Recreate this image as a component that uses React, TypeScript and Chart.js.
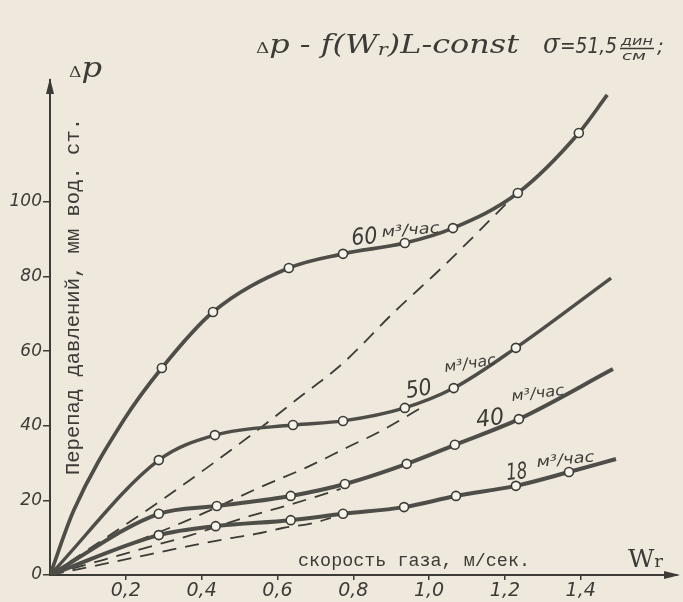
import React, { useEffect, useRef } from "react";
import { Chart, registerables } from "chart.js";
Chart.register(...registerables);

// Measured points: gas velocity W (m/s) and pressure drop Δp (mm H2O)
const W60 = [0.295, 0.43, 0.63, 0.773, 0.936, 1.063, 1.234, 1.395];
const P60 = [55.5, 70.5, 82.3, 86.1, 89.0, 93.0, 102.4, 118.5];
const W50 = [0.287, 0.435, 0.641, 0.773, 0.936, 1.065, 1.229];
const P50 = [30.8, 37.5, 40.2, 41.3, 44.8, 50.1, 60.9];
const W40 = [0.287, 0.44, 0.635, 0.778, 0.941, 1.068, 1.237];
const P40 = [16.4, 18.5, 21.2, 24.4, 29.8, 34.9, 41.8];
const W18 = [0.287, 0.437, 0.635, 0.773, 0.934, 1.071, 1.229, 1.369];
const P18 = [10.7, 13.1, 14.7, 16.4, 18.2, 21.2, 23.9, 27.6];

// Unmarked path points (start near origin / line ends)
const PATH60_W = [0.0, 0.063, 0.195, 1.47];
const PATH60_P = [0.0, 17.4, 41.6, 128.7];
const PATH50_W = [0.0, 1.48];
const PATH50_P = [0.0, 79.6];
const PATH40_W = [0.0, 1.485];
const PATH40_P = [0.0, 55.2];
const PATH18_W = [0.0, 1.493];
const PATH18_P = [0.0, 31.1];

// Dashed lines
const D1_W = [0, 0.306, 0.538, 0.649, 0.773, 0.905, 1.036, 1.221];
const D1_P = [0, 20.9, 38.1, 46.9, 56.8, 70.2, 82.6, 101.3];
const D2_W = [0, 0.364, 0.556, 0.68, 0.786, 0.873, 0.992];
const D2_P = [0, 14.7, 23.6, 29.0, 34.3, 38.6, 45.6];
const D3_W = [0, 0.121, 0.232, 0.372, 0.511, 0.604, 0.715, 0.767];
const D3_P = [0, 3.5, 6.7, 10.7, 15.3, 18.0, 21.4, 23.1];
const D4_W = [0, 0.139, 0.266, 0.379, 0.477, 0.543, 0.614, 0.693, 0.741];
const D4_P = [0, 2.9, 5.6, 8.0, 9.9, 11.0, 12.6, 13.9, 15.3];

const X_TICKS = [0.2, 0.4, 0.6, 0.8, 1.0, 1.2, 1.4];
const Y_TICKS = [0, 20, 40, 60, 80, 100];
const X_MAX = 1.654;
const Y_MAX = 132.7;

const TITLE = "p - f(W";
const TITLE_END = ")L-const";
const SIGMA = "σ";
const SIGMA_VAL = "=51,5";
const UNIT_TOP = "дин";
const UNIT_BOT = "см";
const Y_TITLE = "Перепад давлений, мм вод. ст.";
const X_TITLE = "скорость газа, м/сек.";
const FLOW_UNIT = "м³/час";
const FLOW_LABELS = ["60", "50", "40", "18"];

const INK = "#3c3b37";
const LINE = "#4e4d48";
const PAPER = "#eee9dc";

type Seg = { t: string; f: string; dy?: number };

function drawSegs(ctx: CanvasRenderingContext2D, segs: Seg[], x: number, y: number, width: number, rot = 0) {
  let total = 0;
  const ws = segs.map((s) => {
    ctx.font = s.f;
    const w = ctx.measureText(s.t).width;
    total += w;
    return w;
  });
  const sx = width ? width / total : 1;
  ctx.save();
  ctx.translate(x, y);
  if (rot) ctx.rotate(rot);
  ctx.scale(sx, 1);
  ctx.textAlign = "left";
  ctx.textBaseline = "alphabetic";
  let cx = 0;
  segs.forEach((s, i) => {
    ctx.font = s.f;
    ctx.fillText(s.t, cx, s.dy || 0);
    cx += ws[i];
  });
  ctx.restore();
}

const SERIF_I = (n: number) => `italic ${n}px "DejaVu Serif"`;
const SANS_I = (n: number) => `italic ${n}px "DejaVu Sans"`;
const MONO = (n: number) => `${n}px "Liberation Mono"`;

const decorPlugin = {
  id: "decor",
  beforeDraw(chart: any) {
    const { ctx, width, height } = chart;
    ctx.save();
    ctx.fillStyle = PAPER;
    ctx.fillRect(0, 0, width, height);
    ctx.restore();
  },
  afterDraw(chart: any) {
    const { ctx, chartArea } = chart;
    const { left, right, top, bottom } = chartArea;
    ctx.save();
    ctx.fillStyle = INK;
    ctx.strokeStyle = INK;
    // arrow heads
    ctx.beginPath();
    ctx.moveTo(left, top - 2);
    ctx.lineTo(left - 4, top + 14);
    ctx.lineTo(left + 4, top + 14);
    ctx.closePath();
    ctx.fill();
    ctx.beginPath();
    ctx.moveTo(right + 3, bottom);
    ctx.lineTo(right - 13, bottom - 4);
    ctx.lineTo(right - 13, bottom + 4);
    ctx.closePath();
    ctx.fill();

    // axis name labels
    drawSegs(ctx, [{ t: "Δ", f: `15px "DejaVu Serif"` }, { t: "p", f: SERIF_I(28) }], 69, 77, 33);
    drawSegs(ctx, [{ t: "W", f: `24px "DejaVu Serif"` }, { t: "r", f: `17px "DejaVu Serif"` }], 628, 567, 35);

    // title
    drawSegs(
      ctx,
      [
        { t: "Δ", f: `15px "DejaVu Serif"` },
        { t: TITLE, f: SERIF_I(26) },
        { t: "r", f: SERIF_I(17), dy: 2 },
        { t: TITLE_END, f: SERIF_I(26) },
      ],
      256,
      53,
      263
    );
    drawSegs(ctx, [{ t: SIGMA, f: SERIF_I(28) }, { t: SIGMA_VAL, f: SANS_I(21) }], 543, 53, 74);
    drawSegs(ctx, [{ t: UNIT_TOP, f: SANS_I(13) }], 621, 45, 32);
    ctx.lineWidth = 1.3;
    ctx.beginPath();
    ctx.moveTo(620, 48.5);
    ctx.lineTo(654, 48.5);
    ctx.stroke();
    drawSegs(ctx, [{ t: UNIT_BOT, f: SANS_I(13) }], 622, 60, 24);
    drawSegs(ctx, [{ t: ";", f: SANS_I(20) }], 657, 53, 0);

    // axis titles
    ctx.save();
    ctx.translate(79, 475);
    ctx.rotate(-Math.PI / 2);
    drawSegs(ctx, [{ t: Y_TITLE, f: MONO(20) }], 0, 0, 357);
    ctx.restore();
    drawSegs(ctx, [{ t: X_TITLE, f: MONO(19) }], 298, 566, 232);

    // curve labels
    const lab = (num: string, nx: number, ny: number, nw: number, ux: number, uy: number, uw: number, rot: number) => {
      drawSegs(ctx, [{ t: num, f: SANS_I(23) }], nx, ny, nw, rot);
      drawSegs(ctx, [{ t: FLOW_UNIT, f: SANS_I(15) }], ux, uy, uw, rot);
    };
    lab(FLOW_LABELS[0], 352, 245, 26, 382, 237, 58, -0.08);
    lab(FLOW_LABELS[1], 407, 398, 26, 445, 372, 52, -0.15);
    lab(FLOW_LABELS[2], 477, 427, 28, 512, 401, 53, -0.12);
    lab(FLOW_LABELS[3], 507, 480, 21, 537, 467, 58, -0.1);
    ctx.restore();
  },
};

type Pt = { x: number; y: number; m?: boolean };
function curveData(w: number[], p: number[], pw: number[], pp: number[]): Pt[] {
  const a: Pt[] = w.map((x, i) => ({ x, y: p[i], m: true }));
  const b: Pt[] = pw.map((x, i) => ({ x, y: pp[i], m: false }));
  return [...a, ...b].sort((u, v) => u.x - v.x);
}
function dashData(w: number[], p: number[]): Pt[] {
  return w.map((x, i) => ({ x, y: p[i] }));
}

export default function App() {
  const ref = useRef<HTMLCanvasElement>(null);
  useEffect(() => {
    document.body.style.margin = "0";
    const canvas = ref.current!;
    const solid = (data: Pt[], bw: number) => ({
      data,
      showLine: true,
      borderColor: LINE,
      borderWidth: bw,
      cubicInterpolationMode: "monotone" as const,
      pointRadius: (c: any) => (c.raw && c.raw.m ? 4.5 : 0),
      pointBackgroundColor: "#f6f3ea",
      pointBorderColor: INK,
      pointBorderWidth: 1.6,
      order: 1,
    });
    const dashed = (data: Pt[]) => ({
      data,
      showLine: true,
      borderColor: INK,
      borderWidth: 1.8,
      borderDash: [14, 9],
      cubicInterpolationMode: "monotone" as const,
      pointRadius: 0,
      order: 2,
    });
    const chart = new Chart(canvas, {
      type: "scatter",
      data: {
        datasets: [
          dashed(dashData(D1_W, D1_P)),
          dashed(dashData(D2_W, D2_P)),
          dashed(dashData(D3_W, D3_P)),
          dashed(dashData(D4_W, D4_P)),
          solid(curveData(W60, P60, PATH60_W, PATH60_P), 3.7),
          solid(curveData(W50, P50, PATH50_W, PATH50_P), 3.4),
          solid(curveData(W40, P40, PATH40_W, PATH40_P), 4),
          solid(curveData(W18, P18, PATH18_W, PATH18_P), 4),
        ] as any,
      },
      options: {
        animation: false,
        responsive: false,
        devicePixelRatio: 1,
        layout: { padding: { top: 80, right: 6, left: 0, bottom: 0 } },
        plugins: {
          legend: { display: false },
          tooltip: { enabled: false },
          title: { display: false },
        },
        scales: {
          x: {
            type: "linear",
            min: 0,
            max: X_MAX,
            afterFit: (s: any) => {
              s.height = 27;
            },
            afterBuildTicks: (s: any) => {
              s.ticks = X_TICKS.map((v) => ({ value: v }));
            },
            grid: { display: true, drawOnChartArea: false, drawTicks: true, tickLength: 5, color: INK, lineWidth: 1.5 },
            border: { display: true, color: INK, width: 2 },
            ticks: {
              padding: 0,
              color: INK,
              autoSkip: false,
              maxRotation: 0,
              font: { family: "DejaVu Sans", style: "italic", size: 19 },
              callback: (v: any) => Number(v).toFixed(1).replace(".", ","),
            },
          },
          y: {
            type: "linear",
            min: 0,
            max: Y_MAX,
            afterFit: (s: any) => {
              s.width = 50;
            },
            afterBuildTicks: (s: any) => {
              s.ticks = Y_TICKS.map((v) => ({ value: v }));
            },
            grid: { display: true, drawOnChartArea: false, drawTicks: true, tickLength: 7, color: INK, lineWidth: 1.5 },
            border: { display: true, color: INK, width: 2 },
            ticks: {
              padding: 1,
              color: INK,
              font: { family: "DejaVu Sans", style: "italic", size: 17 },
              callback: (v: any) => String(v),
            },
          },
        },
      } as any,
      plugins: [decorPlugin],
    });
    return () => chart.destroy();
  }, []);
  return (
    <div style={{ width: 683, height: 602, background: PAPER }}>
      <canvas ref={ref} width={683} height={602} style={{ display: "block" }} />
    </div>
  );
}
